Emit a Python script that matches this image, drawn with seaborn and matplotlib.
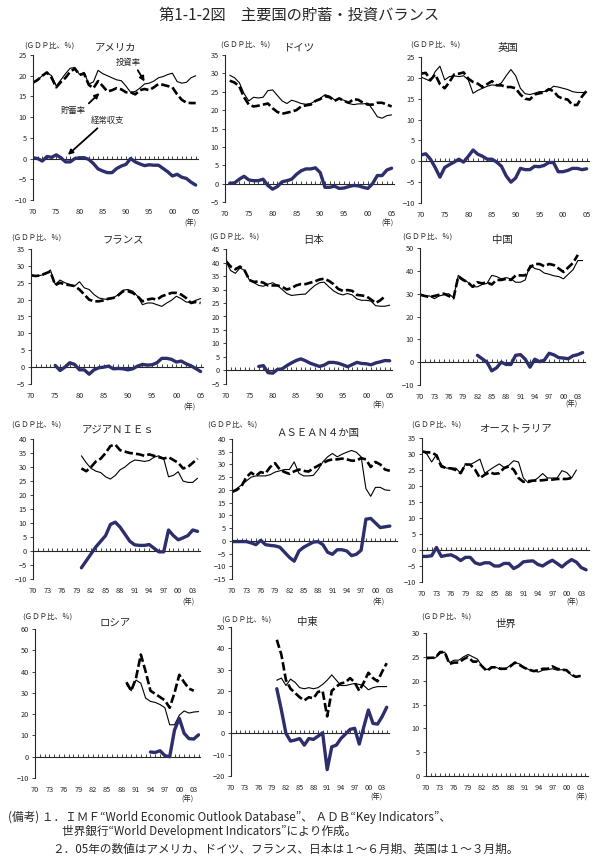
import numpy as np
import matplotlib
matplotlib.use('Agg')
import matplotlib.pyplot as plt
import seaborn as sns

# ---------------- data (GDP比, %) ----------------
us_inv = [18.3,19,20,20.7,20,17.5,19,20.5,21.8,22,20.3,20.8,18,18.5,21.3,20.5,20,19.5,19,18.8,17.5,16,16.2,17,18,18.2,18.7,19.5,19.8,20.3,20.6,18.6,18.2,18.4,19.5,20]
us_sav = [18.3,19,20,20.8,19.5,17.2,18.5,19.5,21,21.7,20.2,20.5,17.8,17,18.7,17.5,16.2,16.5,17,16.7,16,16,15.5,16.5,16.8,16.5,17.2,18,17.8,17.5,17.2,15.5,14.2,13.5,13.4,13.4]
us_ca = [0.2,0,-0.6,0.5,0.3,0.9,0.2,-0.8,-0.8,0,0.2,0.2,-0.2,-1.2,-2.5,-3,-3.4,-3.4,-2.4,-1.8,-1.4,0,-0.8,-1.3,-1.7,-1.5,-1.6,-1.6,-2.4,-3.2,-4.2,-3.8,-4.5,-4.8,-5.7,-6.4]

de_inv = [29.5,28.8,27.5,24.5,22.5,23.5,23.3,23.5,25.3,25.5,24,22.5,21.8,22.7,22.3,21.8,21.6,21.8,22.5,23.2,24.2,23.8,22.8,23,22.7,21.8,21.5,21.7,21.7,21.9,20.2,18.2,17.8,18.5,18.7]
de_sav = [28,27.5,26.5,23.5,21.5,21,21.2,21.5,21.8,20.5,19.5,19,19.3,19.6,20,21,21.3,21.5,22.5,23,23.8,23.5,22.5,23.2,22.5,22,23,22.8,22,21.5,21.5,22,22,21.5,21]
de_ca = [0.1,0.2,1.2,2.0,1.0,0.8,0.8,1.2,-0.5,-1.5,-0.8,0.5,0.8,1.2,2.5,3.5,4,4,4.3,3,-1.0,-1,-0.7,-1.3,-1.2,-0.8,-0.5,-0.6,-1,-1.3,0,2.2,2.2,3.7,4.2]

uk_inv = [20.2,19.7,19.2,21.5,22.8,19.5,20.3,20.5,20.3,20.5,19.5,16.3,17,17.5,18,18.3,18.2,18.8,20.5,22,20.5,17.5,16.2,16,16.3,16.7,16.7,17,18,17.8,17.5,17.2,16.7,16.5,16.5,16.5]
uk_sav = [21,21.2,19.5,20.8,18.5,17.5,19,20.8,21,21.3,19.8,19,18.6,17.8,18.5,19.2,18.2,18.2,17.8,17.8,17.5,16,15,14.8,16,16.3,16.5,17.3,16.8,15.5,15,14.8,13.5,13.5,15.5,16.9]
uk_ca = [1.5,1.8,0.5,-1.5,-3.8,-1.5,-0.8,-0.2,0.5,-0.2,1.2,2.7,1.7,1.2,0.5,0.5,-0.2,-1.2,-3.5,-5,-4,-1.7,-2,-2,-1.2,-1.3,-1,-0.3,-0.3,-2.5,-2.5,-2.2,-1.7,-1.7,-2,-1.8]

fr_inv = [27.3,27,27.2,27.5,28.8,24.5,25.8,25,24.5,24,25.3,23.5,23,21.5,20.5,20.2,20,20.5,21.5,22.8,23,22.5,21,18.5,19,19,18.5,18,19,19.8,21,20.3,19.3,19.2,19.8,20.3]
fr_sav = [27.2,27,27.2,27.8,28.3,24.3,25,24.5,24.3,24,23,21.5,20,19.5,19.5,19.8,20.3,20.5,21.3,22.5,22.5,22,21,19.5,20,20.3,20,21,21.5,22,22,21.5,20.5,19,19.3,19]
fr_ca = [0.5,-1,0,1.3,0.8,-0.8,-0.8,-2.1,-0.8,-0.2,0,0.3,-0.5,-0.4,-0.5,-0.8,-0.5,0.3,0.8,0.6,0.7,1.3,2.6,2.6,2.3,1.5,1.8,1,0.4,-0.4,-1.3]

jp_inv = [40.3,37,36,38,37,33.5,32.5,31.5,31.2,32,32.5,31.5,30,28.5,27.8,28,28.2,28.3,30,31.5,32.5,32.7,31,29.5,28.5,28,28.5,28,26.5,26,26,25.7,24,23.8,23.8,24.2]
jp_sav = [40.5,38.5,37.5,38.5,37,33.5,32.8,33,32.5,31.5,31.5,31.5,31,30,30.5,31.5,32,32,32.5,33,33.7,34,33.2,32,30.2,29.5,29.8,29.5,28,27.8,27.5,26.3,25,26,27.5]
jp_ca = [1.5,1.8,-0.8,-1.0,0.4,0.6,1.8,2.8,3.7,4.3,3.6,2.7,2.1,1.5,2,3,3,2.7,2.1,1.4,2.2,3,2.6,2.5,2.1,2.8,3.2,3.7,3.6]

cn_inv = [30,29,29,27.8,29,29.5,30,28.2,38,36.5,35,33,33,34,34.5,38,37.5,36.5,37,36.5,35,35,36,42.5,41,40.5,39,38.5,37.8,37.5,36.5,38.5,40.5,44.5,44.5]
cn_sav = [29.5,29,28.5,29,29.5,30,29,28,37.5,36,35,33,35,34.5,35,34,36,36,36.5,36,38,38,38,41.5,43,43,42,43,42.5,41,39.5,41.5,43.5,47]
cn_ca = [3,1.5,0,-3.8,-2.5,0,-1,-1,3,3.3,1.3,-2.2,1.3,0.2,0.9,3.9,3.2,2,1.8,1.5,2.8,3.3,4.2]

nie_inv = [34,31.5,29.5,28.5,28,26.5,25.7,27,29,30,31.5,32.5,32.3,32,32.3,33.5,34,33,26.5,27,28.3,25,24.5,24.5,26]
nie_sav = [29.5,28.5,30,32,33,35,37.5,38,36,35.5,35,34.8,34.5,34,34.5,34,33.5,33,33.5,32.5,31.5,29.5,30,31.5,33]
nie_ca = [-6,-3.5,-1,1.5,3.5,5.5,9.5,10.3,8.5,6,3.5,2.2,2,2,2.3,1,-0.3,-0.3,7.5,5.5,4,4.7,5.5,7.5,7]

as_inv = [19.5,20.5,22,23.5,25,25.5,25.5,25.5,26,27,27.5,28,28,31,26.5,25.5,25.5,25.7,28,31,33,34.3,33,34,34.8,35.5,34.8,33,20.5,17.5,21,21,20,19.8]
as_sav = [19.2,20,21.5,25,26.8,25.5,27,26.5,29,30.5,28,27,26.3,27.3,28,27.5,27.2,28.5,29.5,30.5,31.5,32,32,32.3,32,31.5,31.5,32.5,32,29,31,30,28,27.5]
as_ca = [-0.3,-0.3,-0.3,-0.3,-0.8,-1.5,0.2,-1.5,-1.8,-2,-2.5,-4.5,-6.5,-8,-4,-2.5,-1.5,-0.5,-0.3,-1.5,-4.5,-5.3,-3.5,-3.5,-4,-5.8,-5.3,-3.7,8.5,8.8,7,5.2,5.5,5.8]

au_inv = [31,30,27.5,29.8,26.7,25.6,25.6,25.6,24,26.8,26.7,27.5,28.4,24,25,26,26.9,25.8,26.5,27.9,27.5,22.5,21,21.5,22.5,23.9,22.5,22.5,22.5,24.8,24.2,22.5,25]
au_sav = [30.8,30.5,30.5,29.6,26.1,25.6,25.5,25,24,26.7,26.7,25.1,22.5,23.5,24.3,23.8,24,25.6,26.1,25.1,22.5,21.3,21.5,21.7,21.7,21.8,22,22,22.2,22.2,22.2,22.5]
au_ca = [-2,-2,-1.8,0.8,-2,-1.7,-1.5,-2.2,-3.3,-2.3,-2.3,-4,-4.5,-4,-4,-5,-5,-4.2,-4.2,-5.8,-5,-3.7,-3.5,-3.4,-4.5,-5,-4,-3.2,-4.2,-5.3,-4,-3,-3.8,-5.5,-6.2]

ru_inv = [34,31,36,34.5,27.5,26,25.5,24.5,23,15,15,19.5,21.5,20.5,21,21.2]
ru_sav = [35,31,37,48,40,31,29.5,28,26.5,23,30,38.5,35,32,31]
ru_ca = [2.2,2,2.8,0.5,0,12.5,18,11,8.5,8.3,10.3]

me_inv = [25,26,22.5,25.5,24,21.5,21,21.5,21,21.5,23,25,27.5,25,22.5,22.5,23,23.5,23,22.5,20.5,21.5,22,22,22]
me_sav = [44,37,25,21,19,17,15.5,17,16.5,19.5,20,8,20,22,23.5,24,26,24,20,24,28.5,26,24.5,29,33]
me_ca = [21,11,0,-3.6,-3.1,-2.4,-5.5,-2.4,-2.8,-1.3,0.3,-17,-6.3,-5.5,-2.4,-0.3,1.9,2.4,-5,3.1,11,4.7,4.4,7.9,12.3]

w_inv = [25,24.8,24.8,25.7,26,23.8,24.3,24.3,25,25.5,25,24.5,23,22.3,22.8,22.8,22.3,22.5,23.2,23.8,23.5,22.8,22.3,22,21.8,22.2,22.3,22.5,22.2,22.3,22.3,21.2,20.8,21]
w_sav = [24.7,24.8,24.8,26,26,23.5,23.8,23.8,24.5,25,24,24,23,22,22.8,22.8,22.5,22.5,23,23.8,23.3,22.7,22.3,22,22.2,22.5,22.5,23,22.5,22.3,22.2,21.3,20.8,21]

titles = ['アメリカ', 'ドイツ', '英国', 'フランス', '日本', '中国',
          'アジアＮＩＥｓ', 'ＡＳＥＡＮ４か国', 'オーストラリア', 'ロシア', '中東', '世界']
xlabels5 = [1970, 1975, 1980, 1985, 1990, 1995, 2000, 2005]
xlabels3 = [1970, 1973, 1976, 1979, 1982, 1985, 1988, 1991, 1994, 1997, 2000, 2003]

# ---------------- style ----------------
sns.set_style('ticks')
plt.rcParams['font.family'] = ['Noto Sans CJK JP', 'DejaVu Sans']
plt.rcParams['axes.unicode_minus'] = True

W, H = 598, 858
fig = plt.figure(figsize=(W / 100, H / 100), dpi=100)
NAVY = '#2c2f6c'


def px(x, y):
    return x / W, 1 - y / H


panels = [
    dict(inv=(1970, us_inv), sav=(1970, us_sav), ca=(1970, us_ca), ylim=(-10, 25), step=5,
         box=(33, 198, 55, 200), xend=2005.5, xt=xlabels5, tpos=(115, 48), gpos=(24, 46), npos=(190, 224)),
    dict(inv=(1971, de_inv), sav=(1971, de_sav), ca=(1971, de_ca), ylim=(-5, 35), step=5,
         box=(225, 394, 55, 202), xend=2005.5, xt=xlabels5, tpos=(300, 48), gpos=(220, 45), npos=(387, 224)),
    dict(inv=(1970, uk_inv), sav=(1970, uk_sav), ca=(1970, uk_ca), ylim=(-10, 25), step=5,
         box=(421, 589, 57, 203), xend=2005.5, xt=xlabels5, tpos=(508, 48), gpos=(410, 45), npos=None),
    dict(inv=(1970, fr_inv), sav=(1970, fr_sav), ca=(1975, fr_ca), ylim=(-5, 35), step=5,
         box=(31, 203, 249, 384), xend=2005.5, xt=xlabels5, tpos=(123, 240), gpos=(11, 238), npos=(189, 408)),
    dict(inv=(1970, jp_inv), sav=(1970, jp_sav), ca=(1977, jp_ca), ylim=(-5, 45), step=5,
         box=(226, 392, 249, 384), xend=2005.5, xt=xlabels5, tpos=(314, 240), gpos=(209, 237), npos=(378, 406)),
    dict(inv=(1970, cn_inv), sav=(1970, cn_sav), ca=(1982, cn_ca), ylim=(-10, 50), step=10,
         box=(420, 585, 248, 385), xend=2004.5, xt=xlabels3, tpos=(502, 240), gpos=(402, 237), npos=(571, 405)),
    dict(inv=(1980, nie_inv), sav=(1980, nie_sav), ca=(1980, nie_ca), ylim=(-10, 40), step=5,
         box=(33, 200, 439, 579), xend=2004.5, xt=xlabels3, tpos=(118, 430), gpos=(11, 425), npos=(188, 603)),
    dict(inv=(1970, as_inv), sav=(1970, as_sav), ca=(1970, as_ca), ylim=(-15, 40), step=5,
         box=(232, 397, 439, 579), xend=2004.5, xt=xlabels3, tpos=(318, 433), gpos=(207, 425), npos=(378, 603)),
    dict(inv=(1970, au_inv), sav=(1970, au_sav), ca=(1970, au_ca), ylim=(-10, 35), step=5,
         box=(422, 589, 438, 582), xend=2004.6, xt=xlabels3, tpos=(515, 428), gpos=(411, 425), npos=(572, 603)),
    dict(inv=(1989, ru_inv), sav=(1989, ru_sav), ca=(1994, ru_ca), ylim=(-10, 60), step=10,
         box=(35, 200, 629, 778), xend=2004.3, xt=xlabels3, tpos=(115, 623), gpos=(22, 617), npos=(187, 800)),
    dict(inv=(1980, me_inv), sav=(1980, me_sav), ca=(1980, me_ca), ylim=(-20, 50), step=10,
         box=(231, 389, 627, 776), xend=2004.5, xt=xlabels3, tpos=(307, 622), gpos=(221, 620), npos=(376, 798)),
    dict(inv=(1970, w_inv), sav=(1970, w_sav), ca=None, ylim=(0, 30), step=5,
         box=(426, 588, 633, 776), xend=2004.6, xt=xlabels3, tpos=(506, 624), gpos=(421, 617), npos=(581, 798)),
]

axes = []
for title, p in zip(titles, panels):
    L, R, T, B = p['box']
    ax = fig.add_axes([L / W, 1 - B / H, (R - L) / W, (B - T) / H])
    axes.append(ax)
    ymin, ymax = p['ylim']

    s0, vals = p['sav']
    sns.lineplot(x=np.arange(s0, s0 + len(vals)), y=vals, ax=ax, color='black',
                 linewidth=1.9, linestyle=(0, (3.2, 1.2)), errorbar=None)
    s0, vals = p['inv']
    sns.lineplot(x=np.arange(s0, s0 + len(vals)), y=vals, ax=ax, color='black',
                 linewidth=0.8, errorbar=None)
    if p['ca'] is not None:
        s0, vals = p['ca']
        sns.lineplot(x=np.arange(s0, s0 + len(vals)), y=vals, ax=ax, color=NAVY,
                     linewidth=2.4, errorbar=None, solid_capstyle='round')

    ax.set_xlim(1970, p['xend'])
    ax.set_ylim(ymin, ymax)
    ax.set_yticks(np.arange(ymin, ymax + 0.1, p['step']))
    ax.set_xticks(p['xt'])
    ax.set_xticklabels(['%02d' % (y % 100) for y in p['xt']])
    ax.tick_params(axis='x', length=0, pad=6, labelsize=5.3)
    ax.tick_params(axis='y', length=2.5, width=0.6, pad=2, labelsize=5.3)
    for s in ['top', 'right', 'bottom']:
        ax.spines[s].set_visible(False)
    ax.spines['left'].set_linewidth(0.8)
    ax.set_xlabel('')
    ax.set_ylabel('')

    frac = (0 - ymin) / (ymax - ymin)
    sec = ax.secondary_xaxis(frac)
    sec.set_xticks(np.arange(1970, int(p['xend']) + 1))
    sec.tick_params(direction='in', length=2.5, width=0.6, labelbottom=False, labeltop=False)
    sec.spines['bottom'].set_linewidth(0.8)

    tx, ty = px(*p['tpos'])
    fig.text(tx, ty, title, ha='center', va='center', fontsize=7.5)
    gx, gy = px(*p['gpos'])
    fig.text(gx, gy, '(ＧＤＰ比、％)', ha='left', va='center', fontsize=5.4)
    if p['npos'] is not None:
        nx, ny = px(*p['npos'])
        fig.text(nx, ny, '(年)', ha='center', va='center', fontsize=5.3)

# annotations in the US panel
ax = axes[0]
arrow = dict(arrowstyle='-|>', color='black', lw=1.3, mutation_scale=7, shrinkA=0, shrinkB=0)
ax.annotate('投資率', xy=(1994, 18.6), xytext=(1990.5, 23.2), fontsize=6, ha='center', va='center',
            arrowprops=dict(arrow, relpos=(0.8, 0.0)))
ax.annotate('貯蓄率', xy=(1984.3, 15.8), xytext=(1978.6, 11.7), fontsize=6, ha='center', va='center',
            arrowprops=dict(arrow, relpos=(1.0, 0.9)))
ax.annotate('経常収支', xy=(1977.5, 0.9), xytext=(1986.1, 9.2), fontsize=6, ha='center', va='center',
            arrowprops=dict(arrow, relpos=(0.3, 0.0)))

# title and notes
fig.text(0.5, 1 - 15 / H, '第1-1-2図　主要国の貯蓄・投資バランス', ha='center', va='center', fontsize=11)
fig.text(8 / W, 1 - 817 / H, '(備考) １．ＩＭＦ“World Economic Outlook Database”、 ＡＤＢ“Key Indicators”、',
         ha='left', va='center', fontsize=8.4)
fig.text(62 / W, 1 - 832 / H, '世界銀行“World Development Indicators”により作成。',
         ha='left', va='center', fontsize=8.4)
fig.text(52 / W, 1 - 849 / H, '２．05年の数値はアメリカ、ドイツ、フランス、日本は１～６月期、英国は１～３月期。',
         ha='left', va='center', fontsize=8.4)

fig.savefig('out.png', dpi=100)
